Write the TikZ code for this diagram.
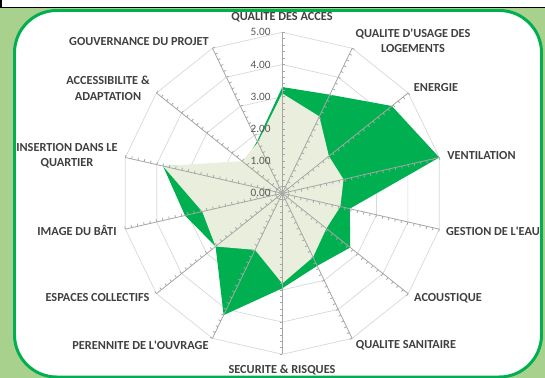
\documentclass[tikz,border=0pt]{standalone}
\usepackage{fontspec}
\setmainfont{Carlito}
\definecolor{bggreen}{HTML}{A9D18E}
\definecolor{framegreen}{HTML}{00B050}
\definecolor{scoregreen}{HTML}{00B050}
\definecolor{refgreen}{HTML}{E9EFDC}
\definecolor{gridgrey}{HTML}{D9D9D9}
\definecolor{axisgrey}{HTML}{A6A6A6}
\definecolor{labelgrey}{HTML}{404040}
\definecolor{valgrey}{HTML}{595959}
\tikzset{
  cat/.style={text=labelgrey, font=\bfseries\fontsize{7}{8.8}\selectfont, align=center, inner sep=0pt},
  val/.style={text=valgrey, font=\fontsize{6.4}{7}\selectfont, anchor=east, inner sep=0pt},
  web/.style={draw=gridgrey, line width=0.4pt},
  axisline/.style={draw=axisgrey, line width=0.45pt}
}

\begin{document}
\begin{tikzpicture}[x=0.02cm,y=-0.02cm]
  \useasboundingbox (0,0) rectangle (545,378);
  \fill[bggreen] (0,8) rectangle (545,378);
  \fill[white] (0,0) rectangle (545,7.5);
  \draw[black, line width=0.6pt] (0,7.5) -- (545,7.5);
  \draw[black, line width=0.6pt] (1,0) -- (1,7.5);
  \draw[framegreen, fill=white, line width=1.7pt, rounded corners=24] (14.5,10.5) rectangle (541.5,377);

  \begin{scope}[shift={(282.3,193.3)}]
  \foreach \k in {1,...,5}
    \draw[web] (-90:\k*32.2) \foreach \i in {1,...,13} {-- (\i*360/14-90:\k*32.2)} -- cycle;

  \fill[scoregreen] (-90:3.3*32.2) \foreach \v [count=\i from 0] in {3.3,3.4,4.35,5,2.15,2.7,2.5,2.95,4.2,2.65,3.1,3.8,1.5,1.8} {-- (\i*360/14-90:\v*32.2)} -- cycle;
  \fill[refgreen] (-90:3.1*32.2) \foreach \v [count=\i from 0] in {3.1,2.65,1.85,1.95,1.85,1.75,2.2,2.8,1.95,2.65,2.55,3.8,1.6,1.75} {-- (\i*360/14-90:\v*32.2)} -- cycle;

  \foreach \i in {0,...,13} {
    \draw[axisline] (0,0) -- (\i*360/14-90:161);
    \foreach \t in {1,...,25}
      \draw[axisline] (\i*360/14-90:\t*6.44) -- ++(\i*360/14:2.6);
  }
  \end{scope}

  \foreach \k in {0,...,5}
    \node[val] (v\k) at (271,193.3-\k*32.2) {\k.00};

  \node[cat] (acces) at (282,17) {QUALITE DES ACCES};
  \node[cat] (usage) at (413,41) {QUALITE D\textquotesingle USAGE DES\\LOGEMENTS};
  \node[cat] (energie) at (436,88) {ENERGIE};
  \node[cat] (ventil) at (481.5,156) {VENTILATION};
  \node[cat] (eau) at (493,231) {GESTION DE L\textquotesingle EAU};
  \node[cat] (acoust) at (448,298) {ACOUSTIQUE};
  \node[cat] (sanit) at (406,345.7) {QUALITE SANITAIRE};
  \node[cat] (secu) at (282,370) {SECURITE \& RISQUES};
  \node[cat] (peren) at (140.5,345) {PERENNITE DE L\textquotesingle OUVRAGE};
  \node[cat] (espaces) at (97.5,298) {ESPACES COLLECTIFS};
  \node[cat] (image) at (77,230.7) {IMAGE DU BÂTI};
  \node[cat] (insert) at (67,155.5) {INSERTION DANS LE\\QUARTIER};
  \node[cat] (access) at (108,88.5) {ACCESSIBILITE \&\\ADAPTATION};
  \node[cat] (gouv) at (139,41.7) {GOUVERNANCE DU PROJET};
\end{tikzpicture}
\end{document}
